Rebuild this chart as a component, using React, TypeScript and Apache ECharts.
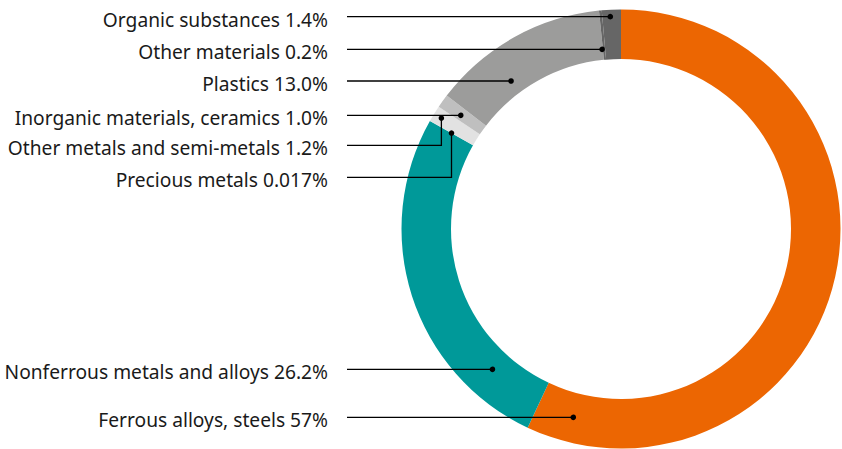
import React, { useEffect, useRef } from "react";
import * as echarts from "echarts";

// ---- data ----
const categories = [
  "Ferrous alloys, steels",
  "Nonferrous metals and alloys",
  "Precious metals",
  "Other metals and semi-metals",
  "Inorganic materials, ceramics",
  "Plastics",
  "Other materials",
  "Organic substances",
];
const values = [57, 26.2, 0.017, 1.2, 1.0, 13.0, 0.2, 1.4];
const valueLabels = ["57", "26.2", "0.017", "1.2", "1.0", "13.0", "0.2", "1.4"];
const colors = ["#EC6602", "#009999", "#D9D9D9", "#E2E2E2", "#BFBFBF", "#9C9C9B", "#666666", "#666666"];

// ---- layout (annotation placement) ----
const W = 842;
const H = 449;
const CX = 621;
const CY = 229;
const R_IN = 170;
const R_OUT = 219.5;
const labelRight = 328;
const lineStart = 347;
const labelY = [417.3, 369.3, 177.3, 145.3, 115.3, 81, 49.3, 16.7];
const dotRadiusFrac = [0.49, 0.41, 0.5, 0.83, 0.535, 0.29, 0.216, 0.86];
const elbow = [false, false, true, true, false, false, false, false];

export default function App() {
  const ref = useRef<HTMLDivElement>(null);
  useEffect(() => {
    if (!ref.current) return;
    const chart = echarts.init(ref.current, undefined, { renderer: "svg" });
    const total = values.reduce((a, b) => a + b, 0);
    let cum = 0;
    const graphics: any[] = [];
    values.forEach((v, i) => {
      const a0 = (cum / total) * 2 * Math.PI;
      cum += v;
      const a1 = (cum / total) * 2 * Math.PI;
      const mid = (a0 + a1) / 2;
      const r = R_IN + dotRadiusFrac[i] * (R_OUT - R_IN);
      const ly = labelY[i];
      let dx: number;
      let dy: number;
      if (elbow[i]) {
        dx = CX + r * Math.sin(mid);
        dy = CY - r * Math.cos(mid);
      } else {
        const off = ly - CY;
        dx = CX - Math.sqrt(Math.max(0, r * r - off * off));
        dy = ly;
      }
      const pts = elbow[i]
        ? [[lineStart, ly], [dx, ly], [dx, dy]]
        : [[lineStart, ly], [dx, ly]];
      graphics.push({
        type: "polyline",
        shape: { points: pts },
        style: { stroke: "#000", lineWidth: 1.3, fill: null },
        silent: true,
        z: 10,
      });
      graphics.push({
        type: "circle",
        shape: { cx: dx, cy: dy, r: 2.8 },
        style: { fill: "#000" },
        silent: true,
        z: 11,
      });
      graphics.push({
        type: "text",
        x: labelRight,
        y: ly + 2.3,
        style: {
          text: `${categories[i]} ${valueLabels[i]}%`,
          fill: "#1a1a1a",
          font: '19.2px "Noto Sans", sans-serif',
          textAlign: "right",
          textVerticalAlign: "middle",
        },
        silent: true,
        z: 11,
      });
    });

    chart.setOption({
      animation: false,
      backgroundColor: "#ffffff",
      graphic: graphics,
      series: [
        {
          type: "pie",
          center: [CX, CY],
          radius: [R_IN, R_OUT],
          startAngle: 90,
          clockwise: true,
          silent: true,
          avoidLabelOverlap: false,
          label: { show: false },
          labelLine: { show: false },
          emphasis: { disabled: true },
          itemStyle: { borderWidth: 0 },
          data: categories.map((name, i) => ({
            name,
            value: values[i],
            itemStyle: { color: colors[i] },
          })),
        },
      ],
    });
    return () => chart.dispose();
  }, []);
  return (
    <div
      ref={ref}
      style={{ position: "fixed", left: 0, top: 0, width: W, height: H, background: "#fff" }}
    />
  );
}
